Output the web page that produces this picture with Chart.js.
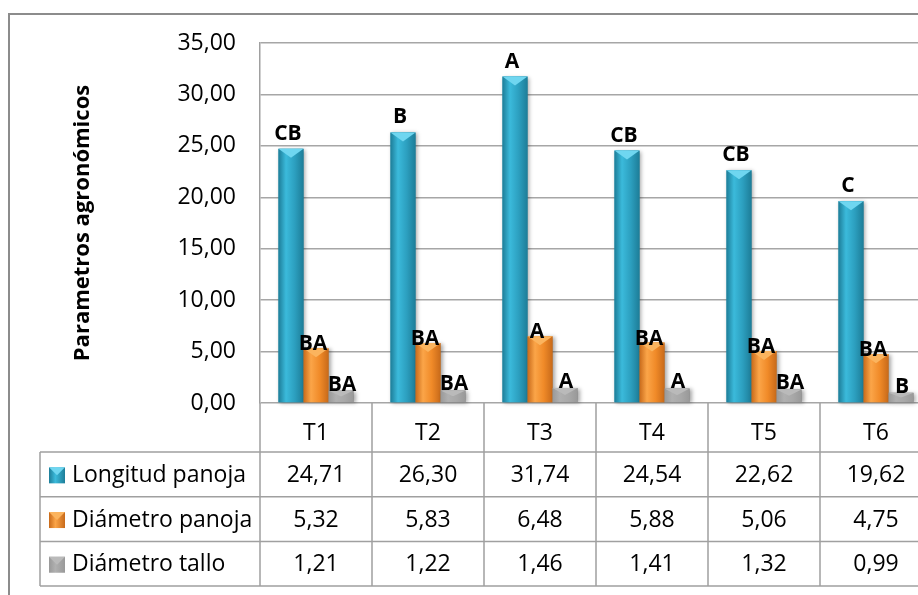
<!DOCTYPE html>
<html>
<head>
<meta charset="utf-8">
<script src="https://cdn.jsdelivr.net/npm/chart.js@4.4.0/dist/chart.umd.min.js"></script>
<style>
html, body { margin: 0; padding: 0; background: #fff; overflow: hidden; }
#wrap { position: absolute; left: 0; top: 0; width: 940px; height: 595px; }
</style>
</head>
<body>
<div id="wrap"><canvas id="chart" width="940" height="595"></canvas></div>
<script>
const categories = ['T1', 'T2', 'T3', 'T4', 'T5', 'T6'];
const seriesNames = ['Longitud panoja', 'Diámetro panoja', 'Diámetro tallo'];
const longitudPanoja = [24.71, 26.30, 31.74, 24.54, 22.62, 19.62];
const diametroPanoja = [5.32, 5.83, 6.48, 5.88, 5.06, 4.75];
const diametroTallo = [1.21, 1.22, 1.46, 1.41, 1.32, 0.99];
const letrasLongitud = ['CB', 'B', 'A', 'CB', 'CB', 'C'];
const letrasDiamPanoja = ['BA', 'BA', 'A', 'BA', 'BA', 'BA'];
const letrasDiamTallo = ['BA', 'BA', 'A', 'A', 'BA', 'B'];
const yMin = 0;
const yMax = 35;
const yStep = 5;

const FONT = '"Open Sans", Lato, sans-serif';
const PALETTES = [
    { base: '#31a8c8', edge: '#1d7d98', light: '#3bbadb', mid: '#2c9fbf', cap: '#6fd6f0' },
    { base: '#f7922f', edge: '#c86a1a', light: '#fba548', mid: '#f08a28', cap: '#fbb45e' },
    { base: '#a6a6a6', edge: '#999999', light: '#b0b0b0', mid: '#a8a8a8', cap: '#bababa' }
];
const LABEL_OFFSETS = [{ dx: -3, dy: -9 }, { dx: -3, dy: 2 }, { dx: 1, dy: 0 }];

function fmt(v) {
    return v.toFixed(2).replace('.', ',');
}

function shadeBar(ctx, bar, pal) {
    const left = bar.x - bar.width / 2;
    const right = bar.x + bar.width / 2;
    const top = bar.y;
    const h = bar.base - bar.y;
    if (h <= 0) return;

    ctx.save();
    ctx.shadowColor = 'rgba(0,0,0,0.35)';
    ctx.shadowBlur = 4;
    ctx.shadowOffsetX = 2;
    ctx.shadowOffsetY = 1;
    const g = ctx.createLinearGradient(left, 0, right, 0);
    g.addColorStop(0, pal.edge);
    g.addColorStop(0.3, pal.light);
    g.addColorStop(0.65, pal.mid);
    g.addColorStop(1, pal.edge);
    ctx.fillStyle = g;
    ctx.fillRect(left, top, bar.width, h);
    ctx.restore();

    // bevelled top
    const bh = Math.min(9, h / 2);
    ctx.fillStyle = pal.cap;
    ctx.beginPath();
    ctx.moveTo(left, top);
    ctx.lineTo(right, top);
    ctx.lineTo(bar.x, top + bh);
    ctx.closePath();
    ctx.fill();
}

function drawKey(ctx, x, y, size, pal) {
    const g = ctx.createLinearGradient(x, 0, x + size, 0);
    g.addColorStop(0, pal.edge);
    g.addColorStop(0.4, pal.light);
    g.addColorStop(1, pal.edge);
    ctx.fillStyle = g;
    ctx.fillRect(x, y, size, size);
    ctx.fillStyle = pal.cap;
    ctx.beginPath();
    ctx.moveTo(x, y);
    ctx.lineTo(x + size, y);
    ctx.lineTo(x + size / 2, y + size / 2);
    ctx.closePath();
    ctx.fill();
}

const barStyle = {
    id: 'barStyle',
    afterDatasetsDraw(chart) {
        const ctx = chart.ctx;
        chart.data.datasets.forEach((ds, di) => {
            chart.getDatasetMeta(di).data.forEach(bar => shadeBar(ctx, bar, PALETTES[di]));
        });
        // letter labels
        ctx.save();
        ctx.font = 'bold 21px ' + FONT;
        ctx.fillStyle = '#000';
        ctx.textAlign = 'center';
        ctx.textBaseline = 'alphabetic';
        chart.data.datasets.forEach((ds, di) => {
            const off = LABEL_OFFSETS[di];
            chart.getDatasetMeta(di).data.forEach((bar, i) => {
                ctx.fillText(ds.letters[i], bar.x + off.dx, bar.y + off.dy);
            });
        });
        ctx.restore();
    }
};

const dataTable = {
    id: 'dataTable',
    beforeDraw(chart) {
        const ctx = chart.ctx;
        ctx.save();
        ctx.fillStyle = '#fff';
        ctx.fillRect(0, 0, chart.width, chart.height);
        ctx.restore();
    },
    afterDraw(chart) {
        const ctx = chart.ctx;
        const area = chart.chartArea;
        const xs = chart.scales.x;
        const colW = xs.getPixelForValue(1) - xs.getPixelForValue(0);
        const catRowH = 49;
        const rowH = 44.7;
        const tableLeft = 40;
        const tableTop = area.bottom + catRowH;
        const rows = [longitudPanoja, diametroPanoja, diametroTallo];
        const right = chart.width + 10;

        ctx.save();
        ctx.strokeStyle = '#a0a0a0';
        ctx.lineWidth = 1.5;
        ctx.beginPath();
        // vertical dividers
        ctx.moveTo(area.left, area.bottom);
        ctx.lineTo(area.left, tableTop + rows.length * rowH);
        for (let i = 1; i <= categories.length; i++) {
            const bx = xs.getPixelForValue(i) - colW / 2;
            ctx.moveTo(bx, area.bottom);
            ctx.lineTo(bx, tableTop + rows.length * rowH);
        }
        ctx.moveTo(tableLeft, tableTop);
        ctx.lineTo(tableLeft, tableTop + rows.length * rowH);
        // horizontal rows
        for (let r = 0; r <= rows.length; r++) {
            const ry = tableTop + r * rowH;
            ctx.moveTo(tableLeft, ry);
            ctx.lineTo(right, ry);
        }
        ctx.stroke();

        ctx.font = '23px ' + FONT;
        ctx.fillStyle = '#000';
        ctx.textBaseline = 'middle';
        rows.forEach((vals, r) => {
            const cy = tableTop + r * rowH + rowH / 2 + 1;
            drawKey(ctx, 49, cy - 8, 16, PALETTES[r]);
            ctx.fillStyle = '#000';
            ctx.textAlign = 'left';
            ctx.fillText(seriesNames[r], 72, cy);
            ctx.textAlign = 'center';
            vals.forEach((v, i) => {
                ctx.fillText(fmt(v), xs.getPixelForValue(i), cy);
            });
        });

        // outer chart border
        ctx.strokeStyle = '#8c8c8c';
        ctx.lineWidth = 2;
        ctx.strokeRect(9, 14, chart.width + 20, chart.height + 20);
        ctx.restore();
    }
};

new Chart(document.getElementById('chart'), {
    type: 'bar',
    data: {
        labels: categories,
        datasets: [
            { label: seriesNames[0], data: longitudPanoja, letters: letrasLongitud, backgroundColor: PALETTES[0].base },
            { label: seriesNames[1], data: diametroPanoja, letters: letrasDiamPanoja, backgroundColor: PALETTES[1].base },
            { label: seriesNames[2], data: diametroTallo, letters: letrasDiamTallo, backgroundColor: PALETTES[2].base }
        ]
    },
    options: {
        responsive: false,
        animation: false,
        layout: { padding: { left: 70, top: 43, right: 8, bottom: 0 } },
        datasets: { bar: { barPercentage: 1, categoryPercentage: 0.67, borderWidth: 0 } },
        plugins: {
            legend: { display: false },
            tooltip: { enabled: false }
        },
        scales: {
            x: {
                grid: { display: false },
                border: { display: false },
                ticks: { color: '#000', font: { family: FONT, size: 23 }, padding: 9 },
                afterFit(scale) { scale.height = 192; }
            },
            y: {
                min: yMin,
                max: yMax,
                ticks: {
                    stepSize: yStep,
                    color: '#000',
                    padding: 24,
                    font: { family: FONT, size: 23 },
                    callback: v => fmt(v)
                },
                grid: { color: '#a6a6a6', lineWidth: 1.5, drawTicks: false },
                border: { display: true, color: '#a0a0a0', width: 1.5 },
                title: {
                    display: true,
                    text: 'Parametros agronómicos',
                    color: '#000',
                    padding: 0,
                    font: { family: FONT, size: 22, weight: 'bold' }
                },
                afterFit(scale) { scale.width = 190; }
            }
        }
    },
    plugins: [barStyle, dataTable]
});
</script>
</body>
</html>
